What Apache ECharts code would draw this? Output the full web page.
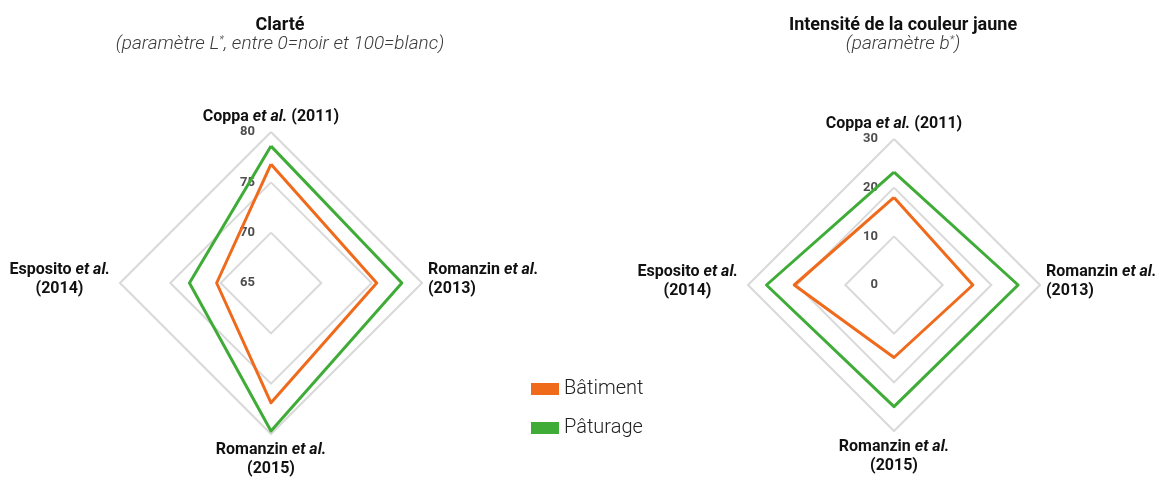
<!DOCTYPE html>
<html><head><meta charset="utf-8">
<script src="https://cdn.jsdelivr.net/npm/echarts@6/dist/echarts.min.js"></script>
<style>html,body{margin:0;padding:0;background:#fff}#c{width:1168px;height:477px}</style>
</head><body><div id="c"></div>
<script>
// Indicators (ECharts places them counter-clockwise from the top)
const indicatorKeys = ['coppa2011', 'esposito2014', 'romanzin2015', 'romanzin2013'];
const seriesNames = ['Bâtiment', 'Pâturage'];
// Clarté (L*)
const clarteMin = 65, clarteMax = 80;
const clarteBatiment = [76.8, 70.4, 76.9, 75.5];
const clartePaturage = [78.6, 73.1, 79.7, 78.0];
// Intensité de la couleur jaune (b*)
const jauneMin = 0, jauneMax = 30;
const jauneBatiment = [18.0, 20.5, 14.9, 16.2];
const jaunePaturage = [23.2, 26.2, 25.0, 25.5];

const colors = ['#f06a1c', '#3fac38'];
const FONT = 'Roboto';

const labelText = {
  coppa2011: '{b|Coppa }{i|et al.}{b| (2011)}',
  esposito2014: '{b|Esposito }{i|et al.}{g| }\n{c|(2014)}{g| }\n{h| }',
  romanzin2015: '{b|Romanzin }{i|et al.}\n{b|(2015)}',
  romanzin2013: '{b|Romanzin }{i|et al.}\n{b|(2013)}\n{h| }'
};

function makeRadar(center, radius, min, max) {
  return {
    center: center,
    radius: radius,
    shape: 'polygon',
    splitNumber: 3,
    startAngle: 90,
    nameGap: 6,
    indicator: indicatorKeys.map((k, i) => {
      const o = { name: k, min: min, max: max };
      if (i === 0) o.axisLabel = { show: true };
      return o;
    }),
    axisName: {
      formatter: (name) => labelText[name],
      color: '#111',
      fontFamily: FONT,
      rich: {
        b: { fontFamily: FONT, fontWeight: 'bold', fontSize: 16, color: '#111', lineHeight: 19 },
        i: { fontFamily: FONT, fontWeight: 'bold', fontStyle: 'italic', fontSize: 16, color: '#111', lineHeight: 19 },
        c: { fontFamily: FONT, fontWeight: 'bold', fontSize: 16, color: '#111', lineHeight: 19, width: 101, align: 'center' },
        g: { fontSize: 16, width: 4, lineHeight: 19 },
        h: { fontSize: 4, lineHeight: 8 }
      }
    },
    axisLine: { show: false },
    axisTick: { show: false },
    axisLabel: { show: false, showMinLabel: true, margin: 16, fontFamily: FONT, fontWeight: 'bold', fontSize: 13, color: '#4d4d4d' },
    splitLine: { lineStyle: { color: '#d9d9d9', width: 2 } },
    splitArea: { show: false }
  };
}

function makeSeries(radarIndex, bat, pat) {
  return {
    type: 'radar',
    radarIndex: radarIndex,
    symbol: 'none',
    silent: true,
    lineStyle: { width: 3 },
    data: [
      { name: seriesNames[0], value: bat, lineStyle: { color: colors[0], width: 3 }, itemStyle: { color: colors[0] } },
      { name: seriesNames[1], value: pat, lineStyle: { color: colors[1], width: 3 }, itemStyle: { color: colors[1] } }
    ]
  };
}

const subRich = { s: { fontFamily: FONT, fontSize: 11, color: '#444', verticalAlign: 'top', padding: [0, 0, 8, 0] } };

const chart = echarts.init(document.getElementById('c'), null, { renderer: 'canvas' });
chart.setOption({
  animation: false,
  backgroundColor: '#fff',
  color: colors,
  title: [
    {
      text: 'Clarté',
      subtext: '(paramètre L{s|*}, entre 0=noir et 100=blanc)',
      left: 275, top: 11, textAlign: 'center', itemGap: 1,
      textStyle: { fontFamily: FONT, fontWeight: 'bold', fontSize: 18, color: '#111' },
      subtextStyle: { fontFamily: FONT, fontStyle: 'italic', fontWeight: 300, fontSize: 19, color: '#3a3a3a', rich: subRich }
    },
    {
      text: 'Intensité de la couleur jaune',
      subtext: '(paramètre b{s|*})',
      left: 898, top: 11, textAlign: 'center', itemGap: 1,
      textStyle: { fontFamily: FONT, fontWeight: 'bold', fontSize: 18, color: '#111' },
      subtextStyle: { fontFamily: FONT, fontStyle: 'italic', fontWeight: 300, fontSize: 19, color: '#3a3a3a', rich: subRich }
    }
  ],
  legend: {
    orient: 'vertical',
    left: 531, top: 378,
    padding: 0,
    itemWidth: 28, itemHeight: 12, itemGap: 17,
    icon: 'rect',
    selectedMode: false,
    data: seriesNames,
    textStyle: { fontFamily: FONT, fontSize: 20, fontWeight: 300, color: '#222', lineHeight: 22 }
  },
  radar: [
    makeRadar([271, 283], 151, clarteMin, clarteMax),
    makeRadar([894, 285], 146, jauneMin, jauneMax)
  ],
  series: [
    makeSeries(0, clarteBatiment, clartePaturage),
    makeSeries(1, jauneBatiment, jaunePaturage)
  ]
});
</script></body></html>
